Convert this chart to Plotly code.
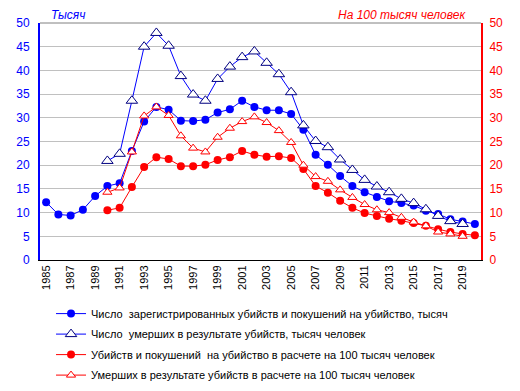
import plotly.graph_objects as go

years = list(range(1985, 2021))

murders_thousand = [12.2, 9.6, 9.4, 10.6, 13.5, 15.6, 16.2, 23.0, 29.2, 32.3,
                    31.7, 29.4, 29.3, 29.6, 31.1, 31.8, 33.6, 32.3, 31.6, 31.6,
                    30.8, 27.5, 22.2, 20.1, 17.7, 15.6, 14.3, 13.3, 12.4, 12.0,
                    11.5, 10.4, 9.7, 8.6, 8.1, 7.6]

deaths_years = list(range(1990, 2020))
deaths_thousand = [20.9, 22.4, 33.6, 45.0, 47.9, 45.2, 38.8, 34.9, 33.6, 38.2,
                   40.8, 42.8, 44.0, 41.6, 39.2, 35.4, 28.4, 25.1, 23.8, 21.2,
                   19.0, 16.9, 15.5, 14.3, 12.9, 12.0, 10.7, 9.3, 8.2, 7.6]

rate_years = list(range(1990, 2021))
murders_per100k = [10.5, 11.0, 15.4, 19.6, 21.7, 21.3, 19.8, 19.8, 20.1, 21.1,
                   21.7, 23.0, 22.2, 21.8, 21.9, 21.5, 19.2, 15.6, 14.2, 12.5,
                   11.0, 9.9, 9.3, 8.7, 8.3, 7.8, 7.2, 6.5, 5.9, 5.5, 5.2]

deaths_rate_years = list(range(1990, 2020))
deaths_per100k = [14.3, 15.2, 22.8, 30.4, 32.3, 30.5, 26.2, 23.6, 22.8, 25.9,
                  27.8, 29.2, 30.2, 29.0, 27.3, 24.8, 20.0, 17.6, 16.6, 14.8,
                  13.2, 11.7, 10.6, 10.0, 9.0, 8.0, 7.2, 5.9, 5.5, 5.0]

names = [
    "Число  зарегистрированных убийств и покушений на убийство, тысяч",
    "Число  умерших в результате убийств, тысяч человек",
    "Убийств и покушений  на убийство в расчете на 100 тысяч человек",
    "Умерших в результате убийств в расчете на 100 тысяч человек",
]

BLUE = "#0000FF"
NAVY = "#000080"
RED = "#FF0000"

fig = go.Figure()
fig.add_trace(go.Scatter(
    x=years, y=murders_thousand, name=names[0], mode="lines+markers", legendgroup="a",
    line=dict(color=BLUE, width=1),
    marker=dict(symbol="circle", size=8, color=BLUE, line=dict(width=0)),
))
fig.add_trace(go.Scatter(
    x=deaths_years, y=deaths_thousand, name=names[1], mode="lines+markers", legendgroup="b",
    line=dict(color=BLUE, width=1),
    marker=dict(symbol="triangle-up", size=10, color="white", line=dict(color=NAVY, width=1)),
))
fig.add_trace(go.Scatter(
    x=rate_years, y=murders_per100k, name=names[2], mode="lines+markers", yaxis="y2",
    legendgroup="c",
    line=dict(color=RED, width=1),
    marker=dict(symbol="circle", size=8, color=RED, line=dict(width=0)),
))
fig.add_trace(go.Scatter(
    x=deaths_rate_years, y=deaths_per100k, name=names[3], mode="lines+markers", yaxis="y2",
    legendgroup="d",
    line=dict(color=RED, width=1),
    marker=dict(symbol="triangle-up", size=8, color="white", line=dict(color=RED, width=1)),
))

font = "Liberation Sans, Arial, sans-serif"
fig.update_layout(
    width=520, height=391,
    margin=dict(l=32, r=47, t=15, b=139, autoexpand=False),
    paper_bgcolor="white", plot_bgcolor="white",
    font=dict(family=font, size=12, color="black"),
    showlegend=True,
    legend=dict(
        x=0.025, y=-0.165, xanchor="left", yanchor="top",
        font=dict(size=11, color="black"),
        tracegroupgap=1.5, itemwidth=30,
        bgcolor="rgba(0,0,0,0)",
    ),
    xaxis=dict(
        range=[1984.5, 2020.5], tickmode="linear", tick0=1985, dtick=2,
        tickangle=-90, showgrid=False, zeroline=False,
        showline=True, linecolor="black", linewidth=1,
        ticks="", tickfont=dict(size=11, color="black"),
        automargin=False,
    ),
    yaxis=dict(
        range=[0, 50], tickmode="linear", tick0=0, dtick=5,
        showgrid=True, gridcolor="#C0C0C0", gridwidth=1, zeroline=False,
        showline=True, linecolor=BLUE, linewidth=2,
        ticks="", tickfont=dict(size=12, color=BLUE), ticklabelstandoff=6,
        automargin=False,
    ),
    yaxis2=dict(
        range=[0, 50], tickmode="linear", tick0=0, dtick=5,
        overlaying="y", side="right", showgrid=False, zeroline=False,
        showline=True, linecolor=RED, linewidth=2,
        ticks="", tickfont=dict(size=12, color=RED), ticklabelstandoff=4,
        automargin=False,
    ),
    shapes=[dict(type="line", xref="paper", yref="paper", x0=0, x1=1, y0=1, y1=1,
                 line=dict(color="#808080", width=1))],
    annotations=[
        dict(text="<i>Тысяч</i>", xref="paper", yref="paper", x=0.02, y=1.0, xanchor="left",
             yanchor="bottom", yshift=-1, showarrow=False,
             font=dict(size=12, color=BLUE, family=font)),
        dict(text="<i>На 100 тысяч человек</i>", xref="paper", yref="paper", x=0.97, y=1.0,
             xanchor="right", yanchor="bottom", yshift=-1, showarrow=False,
             font=dict(size=12, color=RED, family=font)),
    ],
)

fig.write_html("out.html")
